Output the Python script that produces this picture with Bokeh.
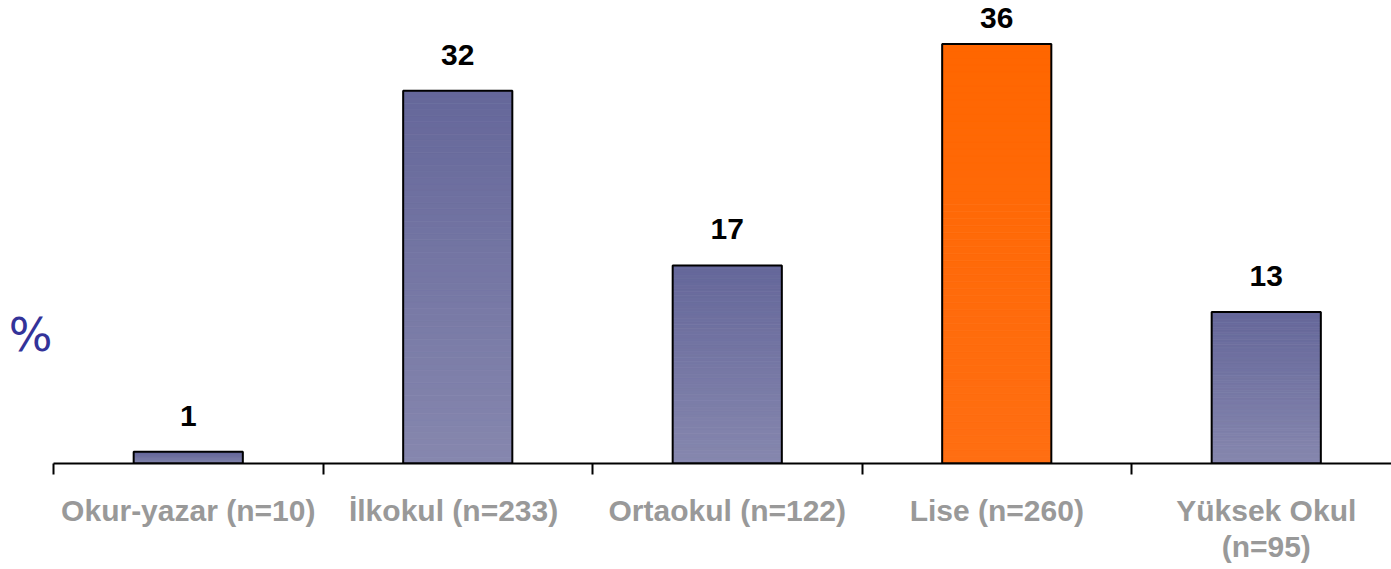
from bokeh.plotting import figure
from bokeh.models import ColumnDataSource, Range1d, FixedTicker, LabelSet, LinearAxis
from bokeh.core.properties import value
from bokeh.embed import file_html
from bokeh.resources import INLINE

# ---- data ----
categories = ["Okur-yazar (n=10)", "İlkokul  (n=233)", "Ortaokul (n=122)",
              "Lise (n=260)", "Yüksek Okul\n(n=95)"]
values = [1, 32, 17, 36, 13]
highlight = [False, False, False, True, False]
y_title = "%"
y_title_pos = 11

# ---- styles / layout ----
PURPLE_TOP = (0x65, 0x67, 0x9a)
PURPLE_BOT = (0x86, 0x87, 0xae)
ORANGE_TOP = (0xff, 0x66, 0x00)
ORANGE_BOT = (0xff, 0x6e, 0x12)
N_SLICES = 60
BAR_W = 0.405
FONT = "Liberation Sans"
FRAME_H = 463
PX_PER_UNIT = 11.65
LABEL_GAP = 26
LABEL_MIN_BASELINE = 27


def mix(c1, c2, t):
    return "#%02x%02x%02x" % tuple(int(round(a + (b - a) * t)) for a, b in zip(c1, c2))


centers = [i + 0.5 for i in range(len(categories))]
bounds = [float(i) for i in range(len(categories))]

# gradient slices built from the values
sx, sb, st, sc = [], [], [], []
for c, v, h in zip(centers, values, highlight):
    top_c, bot_c = (ORANGE_TOP, ORANGE_BOT) if h else (PURPLE_TOP, PURPLE_BOT)
    for k in range(N_SLICES):
        sx.append(c)
        sb.append(v * k / N_SLICES)
        st.append(v * (k + 1) / N_SLICES)
        sc.append(mix(bot_c, top_c, (k + 0.5) / N_SLICES))
slices = ColumnDataSource(dict(x=sx, bottom=sb, top=st, color=sc))

# label offsets: keep labels inside the plot at the top
offsets = [min(LABEL_GAP, (FRAME_H - v * PX_PER_UNIT) - LABEL_MIN_BASELINE) for v in values]
bars = ColumnDataSource(dict(x=centers, top=values, label=[str(v) for v in values],
                             off=offsets))

p = figure(width=1391, height=569, output_backend="svg", toolbar_location=None,
           x_range=Range1d(0, 1338 / 269.5), y_range=Range1d(0, FRAME_H / PX_PER_UNIT),
           y_axis_location=None,
           min_border_left=53, min_border_right=0, min_border_top=0,
           min_border_bottom=106)
p.outline_line_color = None
p.grid.visible = False
p.background_fill_color = "white"
p.border_fill_color = "white"

p.vbar(x="x", bottom="bottom", top="top", width=BAR_W, source=slices,
       fill_color="color", line_color="color", line_width=0.8)
p.vbar(x="x", top="top", width=BAR_W, source=bars, fill_color=None,
       line_color="black", line_width=2)

labels = LabelSet(x="x", y="top", text="label", source=bars, text_align="center",
                  text_baseline="alphabetic", y_offset="off", text_font=value(FONT),
                  text_font_style="bold", text_font_size="30px", text_color="black")
p.add_layout(labels)

ax = p.xaxis[0]
ax.ticker = FixedTicker(ticks=centers, minor_ticks=bounds)
ax.major_label_overrides = {c: lab for c, lab in zip(centers, categories)}
ax.axis_line_color = "black"
ax.axis_line_width = 2
ax.major_tick_line_color = None
ax.major_tick_out = 0
ax.major_tick_in = 0
ax.minor_tick_line_color = "black"
ax.minor_tick_line_width = 2
ax.minor_tick_out = 11
ax.minor_tick_in = 0
ax.major_label_standoff = 19
ax.major_label_text_font = FONT
ax.major_label_text_font_style = "bold"
ax.major_label_text_font_size = "30px"
ax.major_label_text_color = "#999999"
ax.major_label_text_line_height = 1.1

yax = LinearAxis(ticker=FixedTicker(ticks=[y_title_pos]),
                 major_label_overrides={y_title_pos: y_title})
yax.axis_line_color = None
yax.major_tick_line_color = None
yax.minor_tick_line_color = None
yax.major_tick_out = 0
yax.major_tick_in = 0
yax.major_label_standoff = 1
yax.major_label_text_font = "DejaVu Sans"
yax.major_label_text_font_size = "46px"
yax.major_label_text_color = "#333399"
p.add_layout(yax, "left")

open("out.html", "w").write(file_html(p, INLINE))
